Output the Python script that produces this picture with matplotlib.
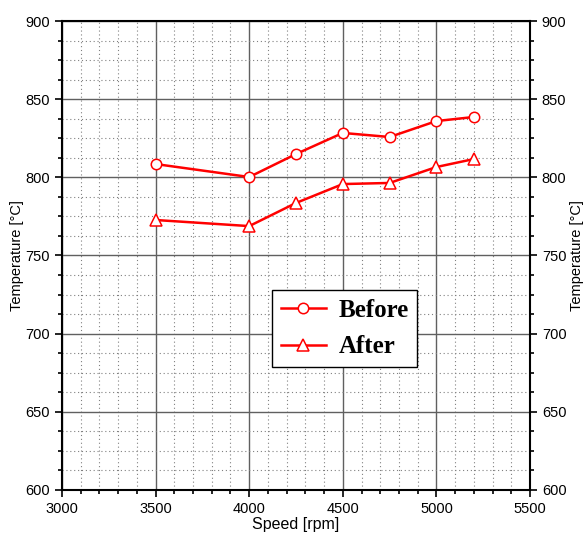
import matplotlib.pyplot as plt
from matplotlib.ticker import MultipleLocator

speed = [3500, 4000, 4250, 4500, 4750, 5000, 5200]
temp_before = [808.5, 800.2, 814.9, 828.4, 825.8, 836.0, 838.6]
temp_after = [772.7, 768.8, 783.6, 795.7, 796.4, 806.6, 811.7]

plt.rcParams['font.family'] = ['Liberation Sans', 'DejaVu Sans']

fig = plt.figure(figsize=(5.85, 5.39), dpi=100)
ax = fig.add_axes([0.106, 0.091, 0.8, 0.87])

ax.plot(speed, temp_before, color='red', lw=1.8, marker='o', ms=7.5,
        mfc='white', mec='red', mew=1.1, label='Before', zorder=3)
ax.plot(speed, temp_after, color='red', lw=1.8, marker='^', ms=8,
        mfc='white', mec='red', mew=1.1, label='After', zorder=3)

ax.set_xlim(3000, 5500)
ax.set_ylim(600, 900)
ax.xaxis.set_major_locator(MultipleLocator(500))
ax.xaxis.set_minor_locator(MultipleLocator(100))
ax.yaxis.set_major_locator(MultipleLocator(50))
ax.yaxis.set_minor_locator(MultipleLocator(12.5))

ax.grid(which='major', color='#606060', lw=1.0, ls='-')
ax.grid(which='minor', color='#808080', lw=0.8, ls=(0, (1, 2.5)))
ax.set_axisbelow(True)

for s in ax.spines.values():
    s.set_linewidth(1.5)

ax.tick_params(which='both', direction='out', labelsize=10.5, width=1.2,
               left=True, right=True, labelright=True, top=False)
ax.tick_params(which='major', length=5)
ax.tick_params(which='minor', length=3)

ax.set_xlabel('Speed [rpm]', fontsize=11.5, labelpad=1)
ax.set_ylabel('Temperature [°C]', fontsize=10.5, labelpad=1)
ax2 = ax.secondary_yaxis('right')
ax2.set_yticks([])
ax2.spines['right'].set_visible(False)
ax2.set_ylabel('Temperature [°C]', fontsize=10.5, labelpad=29)

leg = ax.legend(loc='lower left', bbox_to_anchor=(0.449, 0.262),
                prop={'family': 'Liberation Serif', 'weight': 'bold', 'size': 18},
                frameon=True, fancybox=False, edgecolor='black',
                handlelength=1.8, handletextpad=0.5, borderpad=0.35,
                borderaxespad=0, labelspacing=0.55, framealpha=1)
leg.get_frame().set_linewidth(1.0)

fig.savefig('out.png', dpi=100)
